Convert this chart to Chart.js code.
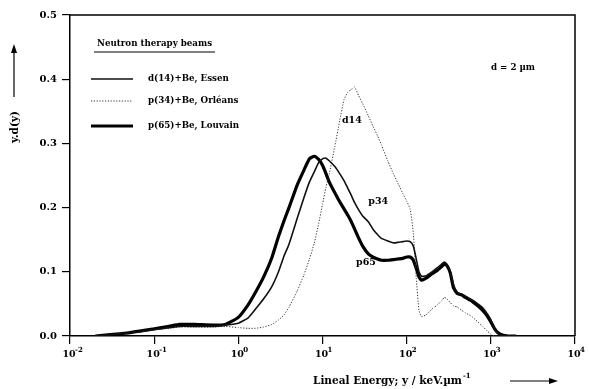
<!DOCTYPE html>
<html>
<head>
<meta charset="utf-8">
<script src="https://cdn.jsdelivr.net/npm/chart.js@4"></script>
<style>
  html, body { margin: 0; padding: 0; background: #fff; }
</style>
</head>
<body>
<canvas id="chart" width="589" height="389"></canvas>
<script>
// lineal energy y (keV/um), shared by the three spectra
const energies = [0.02, 0.03, 0.05, 0.07, 0.1, 0.15, 0.2, 0.3, 0.5, 0.7,
  1, 1.3, 1.6, 2, 2.5, 3, 3.5, 4, 5, 6, 7, 8, 9,
  10, 11, 12, 14, 16, 18, 20, 22, 24, 27, 30, 35, 40, 45, 50, 60, 70, 80, 90,
  100, 110, 120, 130, 140, 150, 170, 200, 230, 260, 280, 300, 330, 360, 400, 450, 500, 600, 700, 800, 900,
  1000, 1100, 1200, 1400, 1600, 2000];

// y.d(y)
const essen = [0, 0.002, 0.005, 0.007, 0.01, 0.013, 0.015, 0.015, 0.015, 0.017,
  0.02, 0.028, 0.042, 0.058, 0.077, 0.1, 0.125, 0.143, 0.183, 0.215, 0.24, 0.256, 0.27,
  0.276, 0.277, 0.273, 0.264, 0.253, 0.242, 0.23, 0.219, 0.208, 0.196, 0.187, 0.178, 0.166, 0.158, 0.152, 0.148, 0.145, 0.146, 0.147,
  0.148, 0.147, 0.14, 0.12, 0.1, 0.093, 0.094, 0.1, 0.106, 0.112, 0.115, 0.112, 0.1, 0.08, 0.068, 0.065, 0.062, 0.056, 0.05, 0.044, 0.035,
  0.025, 0.012, 0.004, 0, 0, 0];

const orleans = [0, 0.002, 0.005, 0.007, 0.01, 0.012, 0.014, 0.014, 0.014, 0.015,
  0.013, 0.012, 0.012, 0.014, 0.018, 0.025, 0.033, 0.045, 0.07, 0.095, 0.12, 0.145, 0.175,
  0.205, 0.232, 0.252, 0.295, 0.335, 0.368, 0.38, 0.384, 0.388, 0.374, 0.362, 0.343, 0.326, 0.312, 0.298, 0.272, 0.252, 0.236, 0.222,
  0.21, 0.198, 0.16, 0.09, 0.04, 0.03, 0.033, 0.042, 0.048, 0.055, 0.06, 0.058, 0.052, 0.047, 0.045, 0.04, 0.036, 0.03, 0.022, 0.015, 0.008,
  0.003, 0, 0, 0, 0, 0];

const louvain = [0, 0.002, 0.005, 0.008, 0.011, 0.015, 0.018, 0.018, 0.017, 0.018,
  0.029, 0.048, 0.068, 0.092, 0.122, 0.155, 0.18, 0.2, 0.235, 0.258, 0.276, 0.28, 0.275,
  0.266, 0.253, 0.24, 0.223, 0.209, 0.198, 0.188, 0.178, 0.167, 0.152, 0.14, 0.128, 0.123, 0.12, 0.118, 0.118, 0.119, 0.12, 0.121,
  0.123, 0.123, 0.118, 0.105, 0.092, 0.087, 0.09, 0.097, 0.102, 0.108, 0.112, 0.11, 0.098, 0.075, 0.066, 0.064, 0.06, 0.054, 0.047, 0.04, 0.032,
  0.022, 0.012, 0.006, 0.001, 0, 0];

const xDecades = [-2, -1, 0, 1, 2, 3, 4];
const legendLabels = ['d(14)+Be, Essen', 'p(34)+Be, Orléans', 'p(65)+Be, Louvain'];
const curveLabels = [
  { text: 'd14', x: 17, y: 0.335 },
  { text: 'p34', x: 35, y: 0.209 },
  { text: 'p65', x: 25, y: 0.115 }
];

const SERIF = '"DejaVu Serif", "Liberation Serif", serif';

const toPoints = vals => energies.map((e, i) => ({ x: e, y: vals[i] }));

const decorations = {
  id: 'decorations',
  afterDraw(chart) {
    const ctx = chart.ctx;
    const area = chart.chartArea;
    const xs = chart.scales.x;
    const ys = chart.scales.y;
    ctx.save();
    ctx.strokeStyle = '#000';
    ctx.fillStyle = '#000';

    // frame top + right
    ctx.lineWidth = 1.5;
    ctx.beginPath();
    ctx.moveTo(area.left, area.top);
    ctx.lineTo(area.right, area.top);
    ctx.lineTo(area.right, area.bottom);
    ctx.stroke();

    // x tick labels 10^n
    ctx.textBaseline = 'alphabetic';
    xDecades.forEach(e => {
      const px = xs.getPixelForValue(Math.pow(10, e));
      ctx.font = 'bold 9.5px ' + SERIF;
      ctx.textAlign = 'center';
      ctx.fillText('10', px - 1, 357);
      ctx.font = 'bold 7px ' + SERIF;
      ctx.textAlign = 'left';
      ctx.fillText(e < 0 ? '-' + (-e) : String(e), px + 5, 352);
    });

    // x axis title with arrow
    ctx.font = 'bold 10.5px ' + SERIF;
    ctx.textAlign = 'left';
    const title = 'Lineal Energy; y / keV.\u00b5m';
    ctx.fillText(title, 313, 384);
    const tw = ctx.measureText(title).width;
    ctx.font = 'bold 7px ' + SERIF;
    ctx.fillText('-1', 313 + tw + 1, 378);
    ctx.lineWidth = 1.2;
    ctx.beginPath();
    ctx.moveTo(510, 381);
    ctx.lineTo(552, 381);
    ctx.stroke();
    ctx.beginPath();
    ctx.moveTo(558, 381);
    ctx.lineTo(549, 378);
    ctx.lineTo(549, 384);
    ctx.closePath();
    ctx.fill();

    // y axis title with arrow
    ctx.save();
    ctx.translate(15, 127);
    ctx.rotate(-Math.PI / 2);
    ctx.font = 'bold 10.5px ' + SERIF;
    ctx.textAlign = 'center';
    ctx.textBaseline = 'middle';
    ctx.fillText('y.d(y)', 0, 0);
    ctx.restore();
    ctx.beginPath();
    ctx.moveTo(14, 97);
    ctx.lineTo(14, 51);
    ctx.stroke();
    ctx.beginPath();
    ctx.moveTo(14, 44);
    ctx.lineTo(11, 53);
    ctx.lineTo(17, 53);
    ctx.closePath();
    ctx.fill();

    // legend
    ctx.font = 'bold 8.7px ' + SERIF;
    ctx.textAlign = 'left';
    ctx.textBaseline = 'middle';
    ctx.fillText('Neutron therapy beams', 97, 44);
    ctx.lineWidth = 1.2;
    ctx.beginPath();
    ctx.moveTo(94, 52);
    ctx.lineTo(215, 52);
    ctx.stroke();
    const rows = [79, 101, 126];
    chart.data.datasets.forEach((ds, i) => {
      ctx.save();
      ctx.strokeStyle = ds.borderColor;
      ctx.lineWidth = ds.borderWidth;
      ctx.setLineDash(ds.borderDash || []);
      ctx.beginPath();
      ctx.moveTo(91, rows[i]);
      ctx.lineTo(133, rows[i]);
      ctx.stroke();
      ctx.restore();
      ctx.font = 'bold 8.7px ' + SERIF;
      ctx.fillText(legendLabels[i], 148, rows[i]);
    });

    // annotations
    ctx.font = 'bold 8.7px ' + SERIF;
    ctx.fillText('d = 2 \u00b5m', 491, 68);
    ctx.font = 'bold 9.5px ' + SERIF;
    curveLabels.forEach(l => {
      ctx.fillText(l.text, xs.getPixelForValue(l.x), ys.getPixelForValue(l.y));
    });
    ctx.restore();
  }
};

new Chart(document.getElementById('chart'), {
  type: 'line',
  data: {
    datasets: [
      { label: legendLabels[0], data: toPoints(essen), borderColor: '#111', borderWidth: 1.6 },
      { label: legendLabels[1], data: toPoints(orleans), borderColor: '#333', borderWidth: 1, borderDash: [1.2, 1.6] },
      { label: legendLabels[2], data: toPoints(louvain), borderColor: '#000', borderWidth: 3.2 }
    ]
  },
  options: {
    responsive: false,
    animation: false,
    devicePixelRatio: 1,
    elements: {
      point: { radius: 0 },
      line: { tension: 0.15, fill: false }
    },
    layout: { padding: { top: 15, right: 14, left: 0, bottom: 0 } },
    plugins: {
      legend: { display: false },
      tooltip: { enabled: false }
    },
    scales: {
      x: {
        type: 'logarithmic',
        min: 0.01,
        max: 10000,
        afterBuildTicks: scale => {
          scale.ticks = xDecades.map(e => ({ value: Math.pow(10, e) }));
        },
        afterFit: scale => { scale.height = 53; },
        ticks: { autoSkip: false, callback: () => '' },
        grid: { drawOnChartArea: false, tickLength: 8, color: '#000', lineWidth: 1.2 },
        border: { color: '#000', width: 1.5 }
      },
      y: {
        min: 0,
        max: 0.5,
        afterFit: scale => { scale.width = 70; },
        ticks: {
          stepSize: 0.1,
          color: '#000',
          padding: 5,
          font: { family: SERIF, size: 10, weight: 'bold' },
          callback: v => v.toFixed(1)
        },
        grid: { drawOnChartArea: false, tickLength: 8, color: '#000', lineWidth: 1.2 },
        border: { color: '#000', width: 1.5 }
      }
    }
  },
  plugins: [decorations]
});
</script>
</body>
</html>
